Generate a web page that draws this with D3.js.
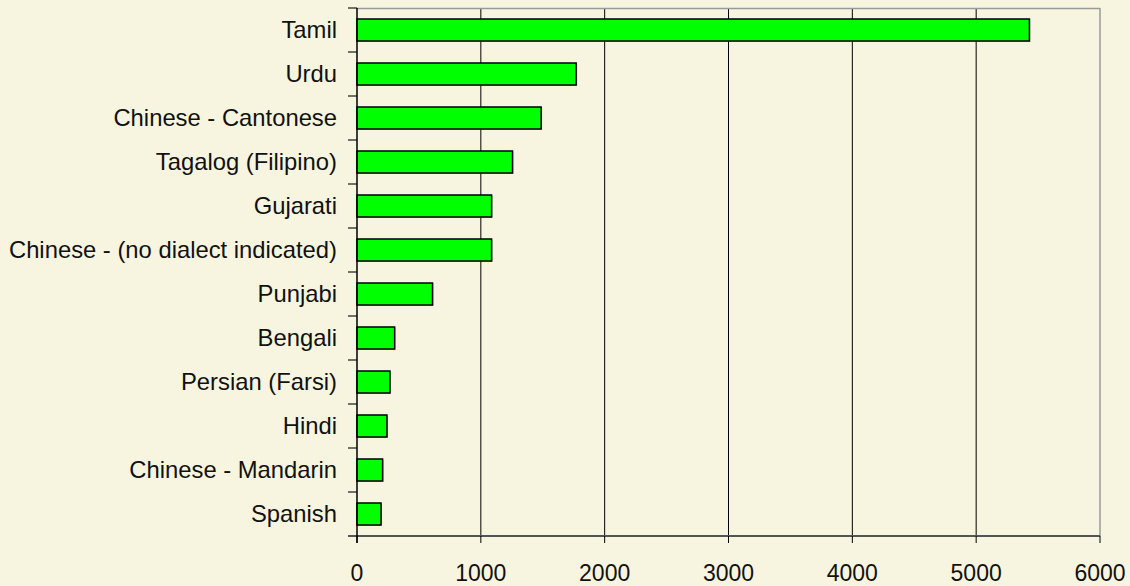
<!DOCTYPE html>
<html>
<head>
<meta charset="utf-8">
<script src="https://cdn.jsdelivr.net/npm/d3@7"></script>
<style>
  body { margin: 0; background: #F7F5DF; }
  svg { display: block; }
  text { font-family: "Liberation Sans", Arial, sans-serif; fill: #111; }
</style>
</head>
<body>
<div id="chart"></div>
<script>
// languages, top to bottom
const languages = ["Tamil", "Urdu", "Chinese - Cantonese", "Tagalog (Filipino)", "Gujarati",
  "Chinese - (no dialect indicated)", "Punjabi", "Bengali", "Persian (Farsi)", "Hindi",
  "Chinese - Mandarin", "Spanish"];
const counts = [5430, 1770, 1487, 1256, 1087, 1087, 610, 304, 266, 242, 207, 194];
const xTicks = [0, 1000, 2000, 3000, 4000, 5000, 6000];

const margin = {top: 8, right: 30, bottom: 50, left: 357};
const width = 1130 - margin.left - margin.right;
const height = 586 - margin.top - margin.bottom;

const svg = d3.select("#chart").append("svg")
    .attr("width", 1130)
    .attr("height", 586)
  .append("g")
    .attr("transform", `translate(${margin.left},${margin.top})`);

const x = d3.scaleLinear().domain([0, 6000]).range([0, width]);
const y = d3.scaleBand().domain(languages).range([0, height]).paddingInner(0.5).paddingOuter(0.25);
const yTickScale = d3.scaleLinear().domain([0, languages.length]).range([0, height]);

// vertical gridlines
svg.selectAll(".grid")
  .data(xTicks.filter(d => d > 0 && d < 6000))
  .join("line")
    .attr("x1", d => x(d)).attr("x2", d => x(d))
    .attr("y1", 0).attr("y2", height)
    .attr("stroke", "#000").attr("stroke-width", 1);

// plot border top/right
svg.append("line").attr("x1", 0).attr("x2", width).attr("y1", 0.5).attr("y2", 0.5)
  .attr("stroke", "#9a9a9a").attr("stroke-width", 1.5);
svg.append("line").attr("x1", width).attr("x2", width).attr("y1", 0).attr("y2", height)
  .attr("stroke", "#9a9a9a").attr("stroke-width", 1.5);

// bar shadows
svg.selectAll(".shadow")
  .data(counts)
  .join("rect")
    .attr("x", 1)
    .attr("y", (d, i) => y(languages[i]) + 1)
    .attr("width", d => x(d))
    .attr("height", y.bandwidth())
    .attr("fill", "#999")
    .attr("opacity", 0.6);

// bars
svg.selectAll(".bar")
  .data(counts)
  .join("rect")
    .attr("x", 0)
    .attr("y", (d, i) => y(languages[i]))
    .attr("width", d => x(d))
    .attr("height", y.bandwidth())
    .attr("fill", "#00FF00")
    .attr("stroke", "#000")
    .attr("stroke-width", 1.5);

// category ticks between bands
svg.selectAll(".ytick")
  .data(d3.range(languages.length + 1))
  .join("line")
    .attr("x1", -9).attr("x2", 0)
    .attr("y1", d => yTickScale(d)).attr("y2", d => yTickScale(d))
    .attr("stroke", "#444").attr("stroke-width", 1.5);

// category labels
svg.selectAll(".ylabel")
  .data(languages)
  .join("text")
    .attr("x", -20)
    .attr("y", d => y(d) + y.bandwidth() / 2)
    .attr("dy", "0.35em")
    .attr("text-anchor", "end")
    .style("font-size", "23.8px")
    .text(d => d);

// x axis
svg.append("line").attr("x1", -9).attr("x2", width).attr("y1", height).attr("y2", height)
  .attr("stroke", "#555").attr("stroke-width", 2);
svg.append("line").attr("x1", 0).attr("x2", 0).attr("y1", 0).attr("y2", height + 7)
  .attr("stroke", "#000").attr("stroke-width", 1.5);

svg.selectAll(".xtick")
  .data(xTicks)
  .join("line")
    .attr("x1", d => x(d)).attr("x2", d => x(d))
    .attr("y1", height).attr("y2", height + 7)
    .attr("stroke", "#000").attr("stroke-width", 1);

svg.selectAll(".xlabel")
  .data(xTicks)
  .join("text")
    .attr("x", d => x(d))
    .attr("y", height + 37)
    .attr("dy", "0.35em")
    .attr("text-anchor", "middle")
    .style("font-size", "23px")
    .text(d => d);
</script>
</body>
</html>
